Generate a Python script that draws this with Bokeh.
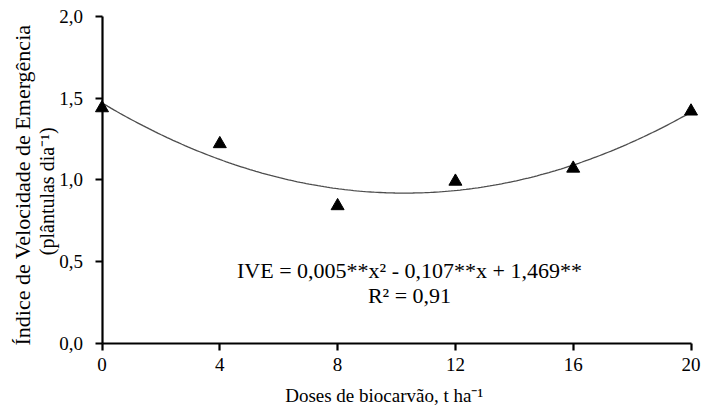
import numpy as np
from bokeh.plotting import figure
from bokeh.models import Range1d, FixedTicker, CustomJSTickFormatter, Label
from bokeh.embed import file_html
from bokeh.resources import INLINE

# data
doses = [0, 4, 8, 12, 16, 20]
ive = [1.44, 1.22, 0.84, 0.99, 1.07, 1.42]
x_ticks = [0, 4, 8, 12, 16, 20]
y_ticks = [0.0, 0.5, 1.0, 1.5, 2.0]
equation = "IVE = 0,005**x² - 0,107**x + 1,469**"
r2_text = "R² = 0,91"
x_title = "Doses de biocarvão, t ha⁻¹"
y_title_1 = "Índice de Velocidade de Emergência"
y_title_2 = "(plântulas dia⁻¹)"

FONT = "Liberation Serif"

# the frame fills the canvas; the axes are drawn at x = 0 and y = 0 inside it
p = figure(width=702, height=408, output_backend="svg", toolbar_location=None,
           x_range=Range1d(-3.4465, 20.39), y_range=Range1d(-0.4013, 2.0987),
           min_border=0)
p.outline_line_color = None
p.xgrid.visible = False
p.ygrid.visible = False

# quadratic trend from the data
coef = np.polyfit(doses, ive, 2)
xs = np.linspace(x_ticks[0], x_ticks[-1], 200)
p.line(xs, np.polyval(coef, xs), line_color="#4d4d4d", line_width=1.3)
p.scatter(doses, ive, marker="triangle", size=13, fill_color="black", line_color="black")

for ax in (p.xaxis[0], p.yaxis[0]):
    ax.axis_line_width = 2.2
    ax.axis_line_color = "black"
    ax.major_tick_line_width = 2.2
    ax.major_tick_line_color = "black"
    ax.major_tick_in = 0
    ax.major_tick_out = 7
    ax.minor_tick_line_color = None
    ax.major_label_text_font = FONT
    ax.major_label_text_font_size = "19px"
    ax.major_label_text_color = "black"
    ax.fixed_location = 0

p.xaxis.ticker = FixedTicker(ticks=x_ticks)
p.yaxis.ticker = FixedTicker(ticks=y_ticks)
p.xaxis.bounds = (x_ticks[0], x_ticks[-1])
p.yaxis.bounds = (y_ticks[0], y_ticks[-1])
p.yaxis.formatter = CustomJSTickFormatter(code="return tick.toFixed(1).replace('.', ',');")
p.xaxis.major_label_standoff = 8
p.yaxis.major_label_standoff = 12

def lab(x, y, text, size, angle=0.0, baseline="alphabetic"):
    p.add_layout(Label(x=x, y=y, text=text, angle=angle, text_align="center",
                       text_baseline=baseline, text_font=FONT,
                       text_font_size=size, text_color="black"))

lab(10.44, 0.444, equation, "22px")
lab(10.44, 0.291, r2_text, "22px")
lab(9.58, -0.322, x_title, "19px")
lab(-2.69, 0.968, y_title_1, "22px", angle=np.pi / 2, baseline="middle")
lab(-1.87, 0.93, y_title_2, "20px", angle=np.pi / 2, baseline="middle")

open("out.html", "w").write(file_html(p, INLINE))
